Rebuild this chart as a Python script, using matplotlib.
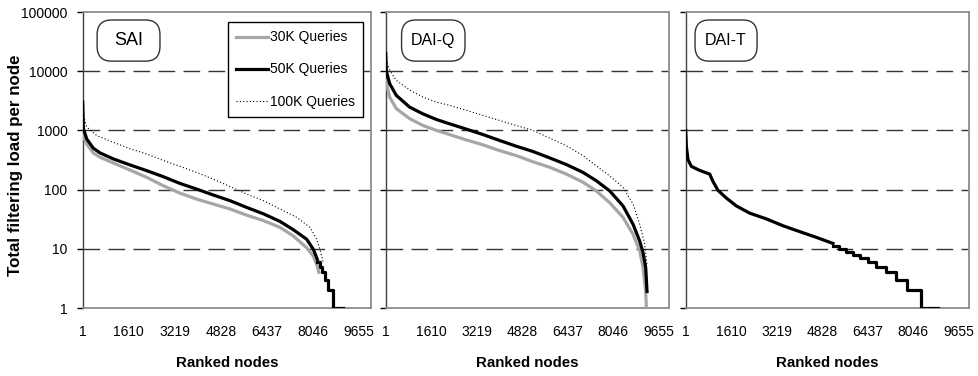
import matplotlib
matplotlib.use("Agg")
import matplotlib.pyplot as plt
from matplotlib import font_manager
from matplotlib.patches import FancyBboxPatch
from matplotlib.ticker import FixedLocator, NullLocator, FuncFormatter

# values
x_ticks = [1, 1610, 3219, 4828, 6437, 8046, 9655]
y_ticks = [1, 10, 100, 1000, 10000, 100000]
grid_levels = [10, 100, 1000, 10000]
series_names = ["30K Queries", "50K Queries", "100K Queries"]
panel_names = ["SAI", "DAI-Q", "DAI-T"]

# SAI
sai_30k_nodes = [1, 140, 373, 606, 1073, 1656, 2240, 2822, 3405, 3988, 4571, 5154,
                 5737, 6320, 6903, 7369, 7836, 8069, 8209, 8260]
sai_30k_load = [850, 590, 415, 352, 282, 214, 161, 116, 87, 69, 57, 47,
                37, 30, 23, 16.5, 10.4, 7.5, 5.1, 4]
sai_50k_nodes = [1, 25, 140, 373, 606, 1073, 1656, 2240, 2822, 3405, 3988, 4571,
                 5154, 5737, 6320, 6903, 7369, 7836, 8069, 8209]
sai_50k_load = [3000, 1070, 720, 500, 417, 330, 261, 209, 165, 127, 102, 81,
                65, 50, 39, 29, 21, 14.5, 9.8, 6.6]
sai_50k_tail_nodes = [8209, 8300, 8360, 8477, 8593, 8768, 9120]
sai_50k_tail_load = [6, 5, 4, 3, 2, 1, 1]
sai_100k_nodes = [1, 140, 490, 1073, 1656, 2240, 2822, 3405, 3988, 4571, 5154,
                  5737, 6320, 6903, 7486, 7952, 8185, 8302, 8419]
sai_100k_load = [2000, 1140, 820, 630, 490, 400, 310, 247, 195, 150, 113,
                 84, 65, 47, 34, 23, 14.5, 9.8, 5.8]

# DAI-Q
daiq_30k_nodes = [1, 141, 377, 849, 1320, 1792, 2264, 2853, 3443, 4032, 4622, 5211,
                  5801, 6390, 6980, 7451, 7923, 8394, 8748, 8984, 9102, 9196, 9220]
daiq_30k_load = [7000, 3650, 2330, 1580, 1210, 1000, 850, 690, 570, 455, 375, 295,
                 238, 183, 133, 95, 60, 34, 17.6, 9.2, 4.8, 1.9, 1]
daiq_50k_nodes = [1, 24, 141, 377, 849, 1320, 1792, 2264, 2853, 3443, 4032, 4622,
                  5211, 5801, 6390, 6980, 7451, 7923, 8394, 8748, 8984, 9102, 9196, 9243]
daiq_50k_load = [20000, 10000, 6160, 3900, 2470, 1900, 1530, 1290, 1050, 850, 675, 540,
                 440, 343, 265, 195, 141, 95, 53, 26, 13.5, 8.6, 4.8, 1.9]
daiq_100k_nodes = [1, 141, 377, 849, 1320, 1792, 2264, 2853, 3443, 4032, 4622, 5211,
                   5801, 6390, 6980, 7451, 7923, 8394, 8748, 8984, 9161, 9243]
daiq_100k_load = [15400, 10400, 7000, 4800, 3660, 3000, 2650, 2180, 1790, 1470, 1210, 1000,
                  740, 550, 375, 252, 170, 109, 57, 26, 11.9, 5.4]

# DAI-T (50K only)
dait_nodes = [1, 24, 83, 200, 495, 849, 967, 1144, 1438, 1792, 2264, 2853,
              3443, 4032, 4622, 5211]
dait_load = [1000, 540, 320, 247, 211, 183, 137, 97, 72, 53, 40, 32,
             24.5, 19.5, 15.6, 12.3]
dait_tail_nodes = [5211, 5423, 5683, 5919, 6154, 6449, 6744, 7074, 7428, 7829, 8312, 8925]
dait_tail_load = [11, 10, 9, 8, 7, 6, 5, 4, 3, 2, 1, 1]

installed = {f.name for f in font_manager.fontManager.ttflist}
if "Liberation Sans Narrow" in installed:
    narrow, small, lab = "Liberation Sans Narrow", 12, 12.3
else:
    narrow, small, lab = "Liberation Sans", 10, 10.8
plt.rcParams["font.family"] = "Liberation Sans"

GRAY = "#a6a6a6"
W, H = 979, 376
fig = plt.figure(figsize=(W / 100, H / 100), dpi=100)

# panel rectangles in pixels: left, right
panel_px = [(82.7, 371.0), (385.7, 669.0), (685.7, 969.0)]
top_px, bottom_px = 12.0, 308.0
xmax = [10086, 10020, 10020]
box_x = [(0.050, 0.268), (0.056, 0.280), (0.033, 0.252)]

axes = []
for i, (l, r) in enumerate(panel_px):
    ax = fig.add_axes([l / W, (H - bottom_px) / H, (r - l) / W, (bottom_px - top_px) / H])
    ax.set_yscale("log")
    ax.set_ylim(1, 100000)
    ax.set_xlim(1, xmax[i])
    ax.yaxis.set_major_locator(FixedLocator(y_ticks))
    ax.yaxis.set_minor_locator(NullLocator())
    ax.xaxis.set_major_locator(FixedLocator(x_ticks))
    ax.yaxis.set_major_formatter(FuncFormatter(lambda v, p: "%d" % v))
    ax.tick_params(axis="x", length=0, pad=12, labelsize=small, labelfontfamily=narrow)
    ax.tick_params(axis="y", direction="out", length=4, width=1, pad=7,
                   labelsize=small, labelfontfamily=narrow, labelleft=(i == 0))
    for lv in grid_levels:
        ax.axhline(lv, color="#333333", lw=1.0, dashes=(12, 6), zorder=1)
    for side in ["top", "right", "bottom"]:
        ax.spines[side].set_color("#8c8c8c")
        ax.spines[side].set_linewidth(1.3)
    ax.spines["left"].set_color("#404040")
    ax.spines["left"].set_linewidth(1.0)
    ax.text(0.5, -(363 - bottom_px) / (bottom_px - top_px), "Ranked nodes",
            transform=ax.transAxes, ha="center", va="center",
            fontsize=lab, fontweight="bold", family=narrow)

    x0, x1 = box_x[i]
    ax.add_patch(FancyBboxPatch((x0, 0.834), x1 - x0, 0.139,
                                boxstyle="round,pad=0,rounding_size=0.05",
                                transform=ax.transAxes, fc="white", ec="#333333",
                                lw=1.0, zorder=5))
    ax.text((x0 + x1) / 2, 0.9035, panel_names[i], transform=ax.transAxes,
            ha="center", va="center", fontsize=13 if i == 0 else 11.5, zorder=6,
            family="Liberation Sans" if i == 0 else narrow)
    axes.append(ax)

ax1, ax2, ax3 = axes

ax1.plot(sai_30k_nodes, sai_30k_load, color=GRAY, lw=2.3, label=series_names[0], zorder=3)
ax1.plot(sai_50k_nodes, sai_50k_load, color="black", lw=2.3, label=series_names[1], zorder=4)
ax1.plot(sai_50k_tail_nodes, sai_50k_tail_load, color="black", lw=2.3,
         drawstyle="steps-post", zorder=4)
ax1.plot(sai_100k_nodes, sai_100k_load, color="black", lw=0.8, ls=(0, (1, 2)),
         label=series_names[2], zorder=3)

ax2.plot(daiq_30k_nodes, daiq_30k_load, color=GRAY, lw=2.3, zorder=3)
ax2.plot(daiq_50k_nodes, daiq_50k_load, color="black", lw=2.3, zorder=4)
ax2.plot(daiq_100k_nodes, daiq_100k_load, color="black", lw=0.8, ls=(0, (1, 2)), zorder=3)

ax3.plot(dait_nodes, dait_load, color="black", lw=2.3, zorder=4)
ax3.plot(dait_tail_nodes, dait_tail_load, color="black", lw=2.3,
         drawstyle="steps-post", zorder=4)

leg = ax1.legend(loc="upper right", bbox_to_anchor=(0.972, 0.966), borderaxespad=0,
                 fancybox=False, edgecolor="black", framealpha=1,
                 prop={"family": narrow, "size": small},
                 handlelength=2.3, handletextpad=0.12, labelspacing=1.3,
                 borderpad=0.6)
leg.get_frame().set_linewidth(1.0)
leg.set_zorder(7)

fig.text(16 / W, (H - 165) / H, "Total filtering load per node", rotation=90,
         ha="center", va="center", fontsize=12.2, fontweight="bold")

fig.savefig("out.png", dpi=100)
